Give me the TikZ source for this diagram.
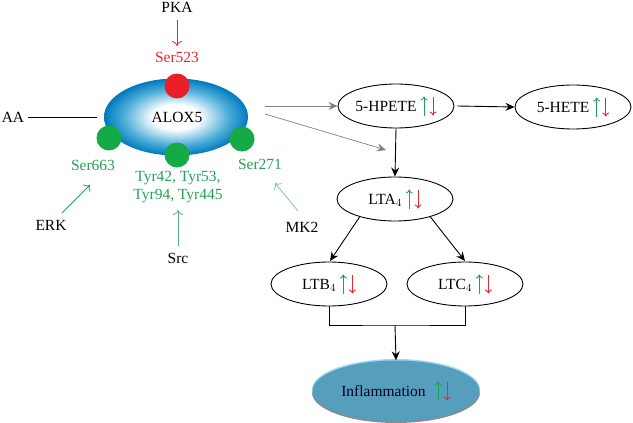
\documentclass[tikz,border=0pt]{standalone}
\usepackage{fontspec}
\setmainfont{Liberation Serif}
\usetikzlibrary{shapes.geometric,arrows.meta}
\definecolor{aloxblue}{RGB}{0,122,188}
\definecolor{aloxmid}{RGB}{80,175,218}
\definecolor{sgreen}{RGB}{30,160,90}
\definecolor{sred}{RGB}{230,40,50}
\definecolor{dotgreen}{RGB}{20,170,70}
\definecolor{dotred}{RGB}{235,30,40}
\definecolor{mkgreen}{RGB}{120,200,170}
\definecolor{inflblue}{RGB}{85,158,188}
\definecolor{inflrim}{RGB}{160,215,240}
\definecolor{txtgreen}{RGB}{40,160,90}
\definecolor{txtred}{RGB}{225,40,50}
\pgfdeclareradialshading{aloxshade}{\pgfpoint{0bp}{0bp}}{color(0bp)=(white); color(8bp)=(white); color(18bp)=(aloxmid); color(25bp)=(aloxblue); color(50bp)=(aloxblue)}
\newcommand\updn{\tikz[baseline=0pt,x=1pt,y=1pt]{%
  \draw[sgreen,line width=0.9pt,-{To[length=4pt,width=7pt]}] (0,-4) -- (0,15);
  \draw[sred,line width=0.9pt,-{To[length=4pt,width=7pt]}] (9,15) -- (9,-4);}}
\tikzset{
  lbl/.style={font=\fontsize{15.5}{17}\selectfont, inner sep=0pt},
  met/.style={draw, ellipse, line width=0.9pt, minimum width=116pt, minimum height=44pt, inner sep=0pt, font=\fontsize{15.5}{17}\selectfont},
  blk/.style={line width=0.9pt, -{Stealth[length=9pt,width=8pt,inset=3pt]}},
  gry/.style={line width=0.7pt, -{Stealth[length=9pt,width=8pt,inset=3pt]}, black!50},
  kin/.style={line width=0.8pt, -{To[length=5pt,width=10pt]}},
  dot/.style={circle, minimum size=25pt, inner sep=0pt},
}
\begin{document}
\begin{tikzpicture}[x=1pt,y=-1pt]
\useasboundingbox (0,0) rectangle (633,423);
% ALOX5
\node[ellipse, minimum width=144pt, minimum height=77pt, shading=aloxshade, inner sep=0pt] (alox) at (176,117) {};
\node[lbl] (aloxt) at (177,117) {ALOX5};
\node[dot, fill=dotred] (r523) at (177,86) {};
\node[dot, fill=dotgreen] (g663) at (109,138) {};
\node[dot, fill=dotgreen] (gtyr) at (177,155) {};
\node[dot, fill=dotgreen] (g271) at (242,139) {};
% labels
\node[lbl] (pka) at (177,7) {PKA};
\node[lbl, text=txtred] (s523) at (177,57) {Ser523};
\node[lbl, text=txtgreen] (s663) at (93,165) {Ser663};
\node[lbl, text=txtgreen] (s271) at (260,164) {Ser271};
\node[lbl, text=txtgreen, align=center, font=\fontsize{15.5}{18}\selectfont] (tyr) at (178,187) {Tyr42, Tyr53,\\Tyr94, Tyr445};
\node[lbl] (erk) at (51,225) {ERK};
\node[lbl] (src) at (178,258) {Src};
\node[lbl] (mk2) at (302,227) {MK2};
\node[lbl] (aa) at (13,117) {AA};
\coordinate (aaend) at (97,117);
\draw[line width=0.8pt] (aa.east) ++(4,0) -- (aaend);
% kinase arrows
\draw[kin, sred] (177,20) -- (177,46);
\draw[kin, txtgreen] (62,213) -- (90,185);
\draw[kin, txtgreen!80] (178,246) -- (178,210);
\draw[kin, mkgreen] (298,211) -- (275,183);
% metabolites
\node[met] (hpete) at (396,106) {5-HPETE \updn};
\node[met] (hete) at (573,107) {5-HETE \updn};
\node[met] (lta) at (395,199) {LTA$_4$ \updn};
\node[met] (ltb) at (329,284) {LTB$_4$ \updn};
\node[met] (ltc) at (465,284) {LTC$_4$ \updn};
% inflammation
\fill[black!45] (396,392.5) ellipse [x radius=84, y radius=30.5];
\fill[inflrim] (396,389.5) ellipse [x radius=84, y radius=30.5];
\node[ellipse, fill=inflblue, minimum width=167pt, minimum height=61pt, inner sep=0pt, font=\fontsize{15.5}{17}\selectfont, text=black!85!blue] (infl) at (396,391) {Inflammation\hspace{9pt}\updn};
% connectors
\coordinate (a1) at (265,106);
\coordinate (a2) at (265,114);
\draw[gry] (a1) -- (a1 -| hpete.west);
\draw[gry] (a2) -- (386,150);
\draw[blk] (hpete.east) ++(3,0) -- (hete.west);
\draw[blk] (hpete.south) -- (lta.north);
\draw[blk] (lta.south west) ++(6,2) -- (330,261);
\draw[blk] (lta.south east) ++(-6,2) -- (465,261);
\coordinate (mid) at (395,325);
\draw[line width=0.9pt] (ltb.south) |- (mid) -| (ltc.south);
\draw[blk] (mid) -- (infl.north);
\end{tikzpicture}
\end{document}
